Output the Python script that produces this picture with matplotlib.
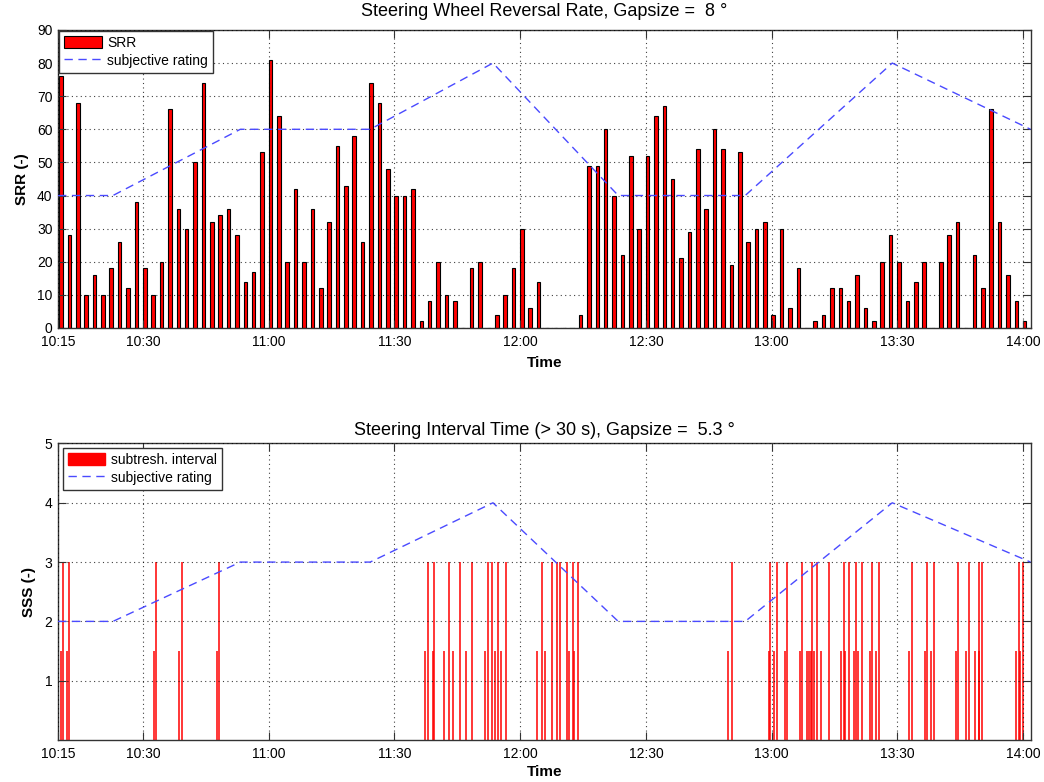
"""
Steering wheel reversal rate and steering interval time over one drive.
"""

import numpy as np
import matplotlib

matplotlib.use("Agg")
import matplotlib.pyplot as plt
from matplotlib.patches import Patch
from matplotlib.lines import Line2D

plt.rcParams["font.family"] = ["Liberation Sans", "DejaVu Sans"]

# time axis is in minutes since midnight
T_START = 609.7
T_END = 841.8
tick_minutes = [T_START, 630, 660, 690, 720, 750, 780, 810, 840]
tick_labels = ["10:15", "10:30", "11:00", "11:30", "12:00", "12:30", "13:00", "13:30", "14:00"]

# steering wheel reversal rate, one value per 2 minute window
srr_first_window = 610.4
srr_values = [
    76, 28, 68, 10, 16, 10, 18, 26, 12, 38,
    18, 10, 20, 66, 36, 30, 50, 74, 32, 34,
    36, 28, 14, 17, 53, 81, 64, 20, 42, 20,
    36, 12, 32, 55, 43, 58, 26, 74, 68, 48,
    40, 40, 42, 2, 8, 20, 10, 8, 0, 18,
    20, 0, 4, 10, 18, 30, 6, 14, 0, 0,
    0, 0, 4, 49, 49, 60, 40, 22, 52, 30,
    52, 64, 67, 45, 21, 29, 54, 36, 60, 54,
    19, 53, 26, 30, 32, 4, 30, 6, 18, 0,
    2, 4, 12, 12, 8, 16, 6, 2, 20, 28,
    20, 8, 14, 20, 0, 20, 28, 32, 0, 22,
    12, 66, 32, 16, 8, 2,
]
srr_times = srr_first_window + 2.0 * np.arange(len(srr_values))

# subjective sleepiness rating
rating_times = [609.7, 622.8, 653.2, 684.2, 713.5, 743.4, 773.7, 808.8, 841.8]
rating_values = [2, 2, 3, 3, 4, 2, 2, 4, 3]

# sub-threshold steering intervals (> 30 s)
interval_full = [
    611.0, 612.3, 633.1, 639.3, 648.2,
    697.9, 699.5, 703.0, 705.7, 708.4, 712.4, 713.3, 714.7, 716.6,
    725.1, 727.5, 728.9, 729.5, 731.2, 732.6, 733.9,
    770.5, 779.7, 781.2, 783.7, 787.3, 789.7, 790.9, 793.7, 797.2,
    798.5, 800.1, 801.5, 804.0, 805.6,
    813.6, 817.0, 818.7, 824.6, 827.1, 829.4, 830.3, 839.0, 840.0,
]
interval_half = [
    610.3, 611.9, 632.7, 638.5, 647.6,
    697.3, 699.1, 701.8, 704.0, 707.1, 711.5, 713.9, 715.5,
    724.1, 725.9, 731.6, 732.9,
    769.5, 779.3, 780.6, 783.2, 786.8, 788.4, 789.0, 789.4, 790.1,
    791.9, 796.5, 797.6, 799.7, 800.7, 803.4, 804.8,
    812.9, 816.5, 818.0, 824.0, 826.3, 828.5, 829.5, 838.4, 839.3,
]
FULL_HEIGHT = 3
HALF_HEIGHT = 1.5

RATING_BLUE = "#4a4aff"
RATING_DASH = (0, (6, 4))


def style_axes(ax):
    ax.set_xlim(T_START, T_END)
    ax.set_xticks(tick_minutes)
    ax.set_xticklabels(tick_labels)
    ax.grid(True, color="black", linestyle=(0, (1, 3)), linewidth=0.8, alpha=0.75)
    ax.set_axisbelow(False)
    ax.tick_params(direction="in", length=6, top=True, right=True,
                   labelsize=10, color="#333333")
    ax.tick_params(axis="x", pad=5)
    ax.tick_params(axis="y", pad=4)
    for spine in ax.spines.values():
        spine.set_color("#333333")
        spine.set_linewidth(1.0)


def add_legend(ax, first_handle, first_label, borderaxespad):
    ax.legend(
        handles=[
            first_handle,
            Line2D([], [], color=RATING_BLUE, linestyle=RATING_DASH, linewidth=1.0),
        ],
        labels=[first_label, "subjective rating"],
        loc="upper left", fontsize=10, fancybox=False, edgecolor="#333333",
        framealpha=1, borderaxespad=borderaxespad, handlelength=2.7,
        handleheight=0.95, borderpad=0.35, labelspacing=0.25, handletextpad=0.4,
    )


fig = plt.figure(figsize=(10.44, 7.82), dpi=100)

# upper panel: reversal rate bars
ax1 = fig.add_axes([0.0556, 0.5806, 0.9315, 0.3811])
ax1.bar(srr_times, srr_values, width=0.85, color="red", edgecolor="black",
        linewidth=0.8, zorder=2)
ax1.plot(rating_times, [r * 20 for r in rating_values], color=RATING_BLUE,
         linestyle=RATING_DASH, linewidth=1.0, zorder=3)
ax1.set_ylim(0, 90)
ax1.set_yticks(np.arange(0, 91, 10))
style_axes(ax1)
ax1.set_title("Steering Wheel Reversal Rate, Gapsize =  8 °", fontsize=13, pad=10)
ax1.set_xlabel("Time", fontsize=11, fontweight="bold", labelpad=5)
ax1.set_ylabel("SRR (-)", fontsize=11, fontweight="bold", labelpad=6)
add_legend(ax1, Patch(facecolor="red", edgecolor="black", linewidth=0.8), "SRR", 0.1)

# lower panel: sub-threshold intervals
ax2 = fig.add_axes([0.0556, 0.0537, 0.9315, 0.3792])
ax2.vlines(interval_full, 0, FULL_HEIGHT, colors="red", linewidth=1.1, zorder=2)
ax2.vlines(interval_half, 0, HALF_HEIGHT, colors="red", linewidth=1.1, zorder=2)
ax2.plot(rating_times, rating_values, color=RATING_BLUE,
         linestyle=RATING_DASH, linewidth=1.0, zorder=3)
ax2.set_ylim(0, 5)
ax2.set_yticks([1, 2, 3, 4, 5])
style_axes(ax2)
ax2.set_title("Steering Interval Time (> 30 s), Gapsize =  5.3 °", fontsize=13, pad=6)
ax2.set_xlabel("Time", fontsize=11, fontweight="bold", labelpad=3)
ax2.set_ylabel("SSS (-)", fontsize=11, fontweight="bold", labelpad=6)
add_legend(ax2, Patch(facecolor="red", edgecolor="red"), "subtresh. interval", 0.35)

fig.savefig("out.png", dpi=100)
